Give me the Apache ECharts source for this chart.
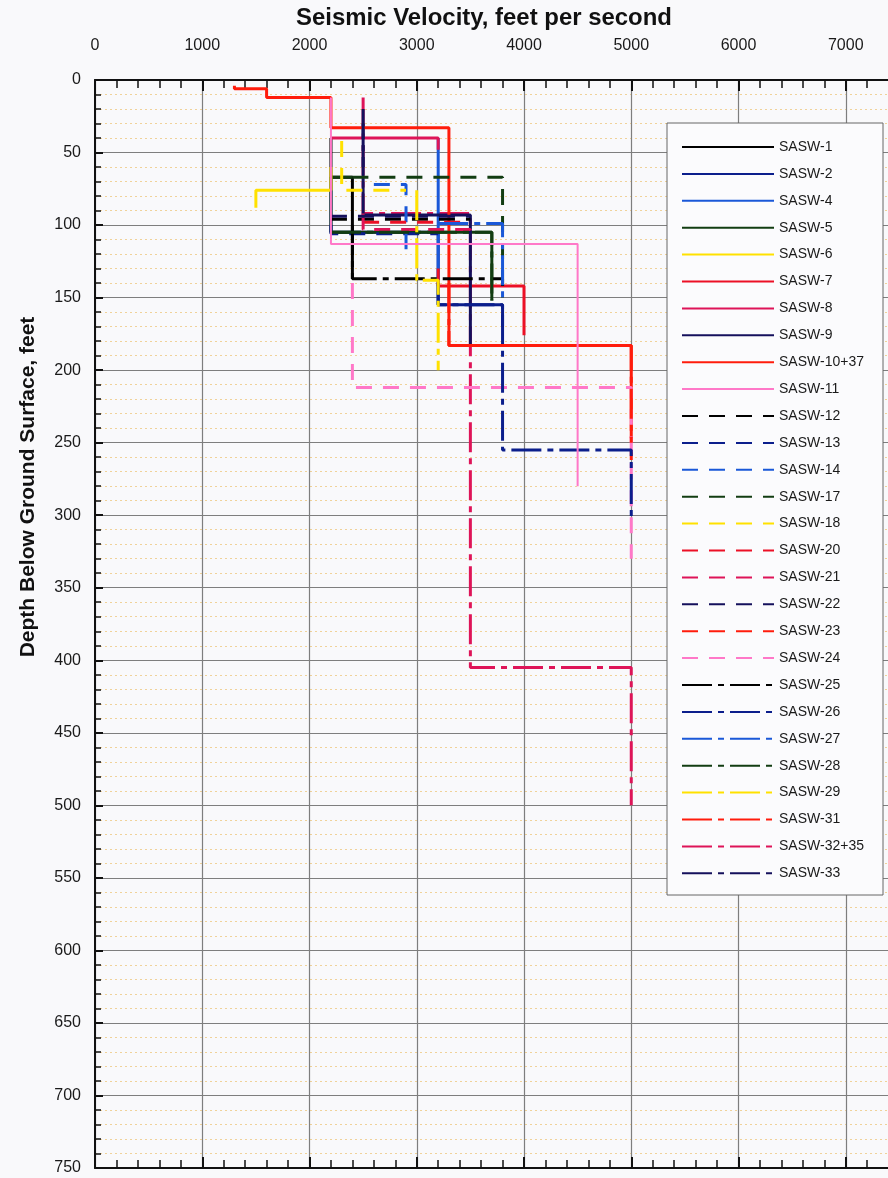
<!DOCTYPE html>
<html><head><meta charset="utf-8">
<script src="https://cdn.jsdelivr.net/npm/echarts@6/dist/echarts.min.js"></script>
<style>html,body{margin:0;padding:0;background:#f9f9fb}#c{width:888px;height:1178px}</style>
</head><body><div id="c"></div>
<script>
// Tick labels
const xTicks = [0,1000,2000,3000,4000,5000,6000,7000,8000];
const yTicks = [0,50,100,150,200,250,300,350,400,450,500,550,600,650,700,750];
// Series names (legend order)
const names = ["SASW-1","SASW-2","SASW-4","SASW-5","SASW-6","SASW-7","SASW-8","SASW-9","SASW-10+37","SASW-11",
 "SASW-12","SASW-13","SASW-14","SASW-17","SASW-18","SASW-20","SASW-21","SASW-22","SASW-23","SASW-24",
 "SASW-25","SASW-26","SASW-27","SASW-28","SASW-29","SASW-31","SASW-32+35","SASW-33"];
// Profiles: [velocity ft/s, depth ft] vertices
const sasw1   = [[2200,40],[2200,67],[2400,67],[2400,137]];
const sasw2   = [[2200,67],[2200,105],[3200,105],[3200,155],[3800,155],[3800,170]];
const sasw4   = [[3200,40],[3200,155]];
const sasw5   = [[2400,67],[2200,67],[2200,105],[3700,105],[3700,152]];
const sasw6   = [[1500,88],[1500,76],[2200,76],[2200,60]];
const sasw7   = [[3200,130],[3200,142],[4000,142],[4000,176]];
const sasw8   = [[2200,40],[3200,40],[3200,48]];
const sasw9   = [[2500,30],[2500,93],[3500,93],[3500,182]];
const sasw1037= [[1300,4],[1300,6],[1600,6],[1600,12],[2200,12],[2200,33],[3300,33],[3300,183],[5000,183],[5000,236]];
const sasw11  = [[2200,12],[2200,113],[4500,113],[4500,280]];
const sasw12  = [[2200,96],[3500,96]];
const sasw13  = [[2200,100],[2200,106],[3200,106]];
const sasw14  = [[2600,72],[2900,72],[2900,120]];
const sasw17  = [[2400,67],[3800,67],[3800,150]];
const sasw18  = [[2300,42],[2300,76],[2900,76]];
const sasw20  = [[2500,98],[3500,98]];
const sasw21  = [[2500,92],[2500,103],[3500,103],[3500,110]];
const sasw22  = [[2200,94],[3500,94]];
const sasw23  = [[5000,236],[5000,262]];
const sasw24  = [[2400,140],[2400,212],[5000,212],[5000,330]];
const sasw25  = [[2400,100],[2400,137],[3800,137],[3800,142]];
const sasw26  = [[3200,140],[3200,155],[3800,155],[3800,255],[5000,255],[5000,302]];
const sasw27  = [[3200,99],[3800,99],[3800,150]];
const sasw28  = [[2200,105],[3700,105],[3700,152]];
const sasw29  = [[3000,76],[3000,138],[3200,138],[3200,200]];
const sasw31  = [[3300,140],[3300,183],[5000,183],[5000,250]];
const sasw3235= [[2500,12],[2500,92],[3500,92],[3500,405],[5000,405],[5000,500]];
const sasw33  = [[2500,20],[2500,60]];

const profiles = [sasw1,sasw2,sasw4,sasw5,sasw6,sasw7,sasw8,sasw9,sasw1037,sasw11,
 sasw12,sasw13,sasw14,sasw17,sasw18,sasw20,sasw21,sasw22,sasw23,sasw24,
 sasw25,sasw26,sasw27,sasw28,sasw29,sasw31,sasw3235,sasw33];

const colorCycle = ['#000000','#0b1e8c','#1a58d8','#123d12','#ffe100','#ec1026','#de1458','#15105c','#ff1c0c','#ff78c8'];
function styleFor(i){
  let color, type, width = 3;
  if (i < 10) { color = colorCycle[i]; type = 'solid'; if (i===9) width = 2; }
  else if (i < 20) { color = colorCycle[i-10]; type = [16,11]; }
  else { const map = [0,1,2,3,4,8,6,7]; color = colorCycle[map[i-20]]; type = [30,6,6,6]; }
  return {color, type, width};
}

const chart = echarts.init(document.getElementById('c'), null, {renderer:'canvas'});
const series = names.map((n,i)=>{
  const s = styleFor(i);
  return {name:n, type:'line', data:profiles[i], symbol:'none', showSymbol:false, xAxisIndex:0, yAxisIndex:0,
    lineStyle:{color:s.color, type:s.type, width:s.width}, itemStyle:{color:s.color},
    z: n==='SASW-32+35' ? 2 : (n==='SASW-11' ? 4 : 3)};
});

const font = "'Liberation Sans', Arial, sans-serif";
chart.setOption({
  animation:false,
  backgroundColor:'#f9f9fb',
  grid:{left:95, top:80, width:858, height:1088, outerBoundsMode:'none', containLabel:false},
  xAxis:[
    {type:'value', position:'top', min:0, max:8000, interval:1000,
     axisLine:{show:true, lineStyle:{color:'#111', width:2}},
     axisTick:{show:true, inside:true, length:11, lineStyle:{color:'#111', width:2}},
     minorTick:{show:true, splitNumber:5, length:8, lineStyle:{color:'#111', width:1.5}},
     axisLabel:{fontSize:16, color:'#1a1a1a', margin:26, fontFamily:font,
       formatter:v=> xTicks.includes(v) ? String(v) : ''},
     splitLine:{show:true, lineStyle:{color:'#7e7e7e', width:1.2}},
     minorSplitLine:{show:false}},
    {type:'value', position:'bottom', min:0, max:8000, interval:1000,
     axisLine:{show:true, lineStyle:{color:'#111', width:2}},
     axisTick:{show:true, inside:true, length:11, lineStyle:{color:'#111', width:2}},
     minorTick:{show:true, splitNumber:5, length:8, lineStyle:{color:'#111', width:1.5}},
     axisLabel:{show:false}, splitLine:{show:false}}
  ],
  yAxis:[{type:'value', inverse:true, min:0, max:750, interval:50,
     axisLine:{show:true, lineStyle:{color:'#111', width:2}},
     axisTick:{show:true, inside:true, length:8, lineStyle:{color:'#111', width:2}},
     minorTick:{show:true, splitNumber:5, length:6, lineStyle:{color:'#111', width:1.5}},
     axisLabel:{fontSize:16, color:'#1a1a1a', margin:14, fontFamily:font,
       formatter:v=> yTicks.includes(v) ? String(v) : ''},
     splitLine:{show:true, lineStyle:{color:'#7e7e7e', width:1.2}},
     minorSplitLine:{show:true, lineStyle:{color:'#f0d29a', width:1, type:[2,3]}}}],
  legend:{orient:'vertical', left:676, top:135, itemWidth:92, itemHeight:14, itemGap:12.9,
    itemStyle:{opacity:0, borderWidth:0},
    textStyle:{fontSize:14, color:'#1a1a1a', fontFamily:font}, z:10, data:names, selectedMode:false},
  graphic:[
    {type:'rect', z:9, shape:{x:667, y:123, width:216, height:772},
     style:{fill:'#fbfbfd', stroke:'#666', lineWidth:1}},
    {type:'text', z:10, x:484, y:19, scaleX:1.04,
     style:{text:'Seismic Velocity, feet per second', font:"bold 23px 'Liberation Sans', Arial, sans-serif", fill:'#111', align:'center', verticalAlign:'middle'}},
    {type:'text', z:10, rotation:Math.PI/2, x:28, y:487,
     style:{text:'Depth Below Ground Surface, feet', font:"bold 21px 'Liberation Sans', Arial, sans-serif", fill:'#111', align:'center', verticalAlign:'middle'}}
  ],
  series
});
</script></body></html>
